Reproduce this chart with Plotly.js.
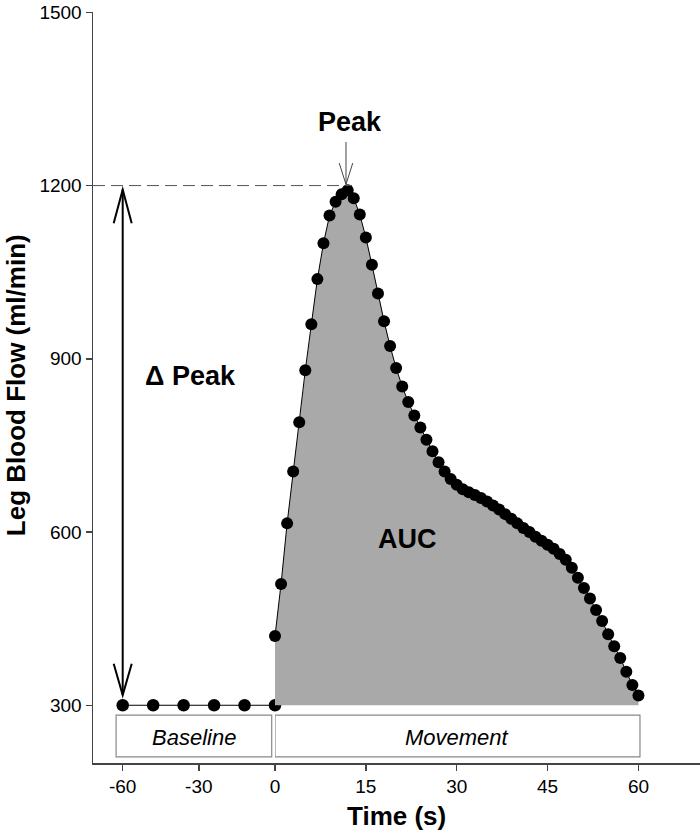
<!DOCTYPE html>
<html>
<head>
<meta charset="utf-8">
<script src="https://cdn.plot.ly/plotly-3.0.1.min.js"></script>
<style>
  html, body { margin: 0; padding: 0; background: #fff; }
  #chart { width: 700px; height: 840px; }
</style>
</head>
<body>
<div id="chart"></div>
<script>
// ---------------- DATA ----------------
const baselineLevel = 300;
const baseTime = [-60, -48, -36, -24, -12, 0];
const baseFlow = [300, 300, 300, 300, 300, 300];

const moveTime = [0, 1, 2, 3, 4, 5, 6, 7, 8, 9, 10,
  11, 12, 13, 14, 15, 16, 17, 18, 19, 20,
  21, 22, 23, 24, 25, 26, 27, 28, 29, 30,
  31, 32, 33, 34, 35, 36, 37, 38, 39, 40,
  41, 42, 43, 44, 45, 46, 47, 48, 49, 50,
  51, 52, 53, 54, 55, 56, 57, 58, 59, 60];
const moveFlow = [420, 510, 615, 705, 790, 880, 960, 1038, 1100, 1148, 1172,
  1185, 1192, 1178, 1150, 1110, 1063, 1013, 965, 922, 884,
  852, 825, 802, 781, 760, 740, 721, 705, 692, 682,
  674, 669, 664, 659, 653, 646, 639, 631, 623, 615,
  607, 600, 592, 585, 578, 571, 562, 552, 538, 521,
  503, 485, 465, 446, 423, 402, 382, 358, 335, 317];

const peakValue = 1200;
const xTicksBase = [-60, -30];
const xTicksMove = [0, 15, 30, 45, 60];
const yTicks = [300, 600, 900, 1200, 1500];

// ---------------- TRACES ----------------
const fillX = [moveTime[0]].concat(moveTime, [moveTime[moveTime.length - 1]]);
const fillY = [baselineLevel].concat(moveFlow, [baselineLevel]);

const traces = [
  {
    x: fillX, y: fillY, xaxis: 'x2', yaxis: 'y',
    type: 'scatter', mode: 'lines', fill: 'toself',
    fillcolor: '#a9a9a9', line: { width: 0 }, hoverinfo: 'skip'
  },
  {
    x: moveTime, y: moveFlow, xaxis: 'x2', yaxis: 'y',
    type: 'scatter', mode: 'lines+markers',
    line: { color: '#000', width: 1 },
    marker: { color: '#000', size: 12 }, cliponaxis: false
  },
  {
    x: baseTime, y: baseFlow, xaxis: 'x', yaxis: 'y',
    type: 'scatter', mode: 'lines+markers',
    line: { color: '#000', width: 1 },
    marker: { color: '#000', size: 12.5 }, cliponaxis: false
  }
];

// ---------------- LAYOUT ----------------
const FONT = 'Liberation Sans, Arial, Helvetica, sans-serif';
const axisCommon = {
  showgrid: false, zeroline: false, showline: true,
  linecolor: '#444', linewidth: 1.5,
  ticks: 'outside', ticklen: 6, tickwidth: 1.5, tickcolor: '#444',
  tickfont: { family: FONT, size: 19, color: '#000' },
  ticklabeloverflow: 'allow',
  fixedrange: true
};

const splitFrac = 182 / 607;

const layout = {
  width: 700, height: 840,
  margin: { l: 93, r: 0, t: 12, b: 77 },
  paper_bgcolor: '#fff', plot_bgcolor: '#fff',
  showlegend: false,
  font: { family: FONT, color: '#000' },
  xaxis: Object.assign({}, axisCommon, {
    domain: [0, splitFrac], range: [-71.7, 0], anchor: 'y',
    tickmode: 'array', tickvals: xTicksBase, ticktext: xTicksBase.map(String)
  }),
  xaxis2: Object.assign({}, axisCommon, {
    domain: [splitFrac, 1], range: [0, 70.16], anchor: 'y',
    tickmode: 'array', tickvals: xTicksMove, ticktext: xTicksMove.map(String)
  }),
  yaxis: Object.assign({}, axisCommon, {
    range: [200, 1500.6], anchor: 'x',
    tickmode: 'array', tickvals: yTicks, ticktext: yTicks.map(String)
  }),
  shapes: [
    // dashed peak reference line
    { type: 'line', xref: 'paper', yref: 'y', x0: 0, x1: 0.4267, y0: peakValue, y1: peakValue,
      line: { color: '#555', width: 1, dash: '12px,6px' } },
    // delta peak double arrow
    { type: 'line', xref: 'x', yref: 'y', x0: -60, x1: -60, y0: 318, y1: 1193,
      line: { color: '#000', width: 2 } },
    { type: 'path', xref: 'x', yref: 'y', path: 'M -63.55,1134.7 L -60,1193 L -56.45,1134.7',
      line: { color: '#000', width: 2 } },
    { type: 'path', xref: 'x', yref: 'y', path: 'M -63.55,372 L -60,317.5 L -56.45,372',
      line: { color: '#000', width: 2 } },
    // peak arrow
    { type: 'line', xref: 'x2', yref: 'y', x0: 11.72, x1: 11.72, y0: 1275.5, y1: 1202,
      line: { color: '#444', width: 1 } },
    { type: 'path', xref: 'x2', yref: 'y', path: 'M 10.6,1239 L 11.72,1202 L 12.84,1239',
      line: { color: '#444', width: 1 } },
    // phase boxes
    { type: 'rect', xref: 'x', yref: 'y', x0: -62.6, x1: -1.3, y0: 210.7, y1: 282.8,
      line: { color: '#888', width: 1.2 }, fillcolor: 'rgba(0,0,0,0)' },
    { type: 'rect', xref: 'x2', yref: 'y', x0: 0, x1: 60.25, y0: 210.7, y1: 282.8,
      line: { color: '#888', width: 1.2 }, fillcolor: 'rgba(0,0,0,0)' }
  ],
  annotations: [
    { text: '<b>Peak</b>', xref: 'x2', yref: 'y', x: 12.38, y: 1310, showarrow: false,
      xanchor: 'center', yanchor: 'middle', font: { size: 27, family: FONT, color: '#000' } },
    { text: '<b>Δ Peak</b>', xref: 'x', yref: 'y', x: -33.1, y: 870, showarrow: false,
      xanchor: 'center', yanchor: 'middle', font: { size: 27, family: FONT, color: '#000' } },
    { text: '<b>AUC</b>', xref: 'x2', yref: 'y', x: 21.95, y: 588, showarrow: false,
      xanchor: 'center', yanchor: 'middle', font: { size: 27, family: FONT, color: '#000' } },
    { text: '<i>Baseline</i>', xref: 'x', yref: 'y', x: -31.9, y: 244, showarrow: false,
      xanchor: 'center', yanchor: 'middle', font: { size: 22, family: FONT, color: '#000' } },
    { text: '<i>Movement</i>', xref: 'x2', yref: 'y', x: 30.1, y: 244, showarrow: false,
      xanchor: 'center', yanchor: 'middle', font: { size: 22, family: FONT, color: '#000' } },
    { text: '<b>Time (s)</b>', xref: 'paper', yref: 'paper', x: 0.5, y: -0.0707, showarrow: false,
      xanchor: 'center', yanchor: 'middle', font: { size: 26, family: FONT, color: '#000' } },
    { text: '<b>Leg Blood Flow (ml/min)</b>', xref: 'paper', yref: 'paper', x: -0.127, y: 0.503,
      textangle: -90, showarrow: false, xanchor: 'center', yanchor: 'middle',
      font: { size: 26, family: FONT, color: '#000' } }
  ]
};

Plotly.newPlot('chart', traces, layout, { displayModeBar: false, staticPlot: true });
</script>
</body>
</html>
